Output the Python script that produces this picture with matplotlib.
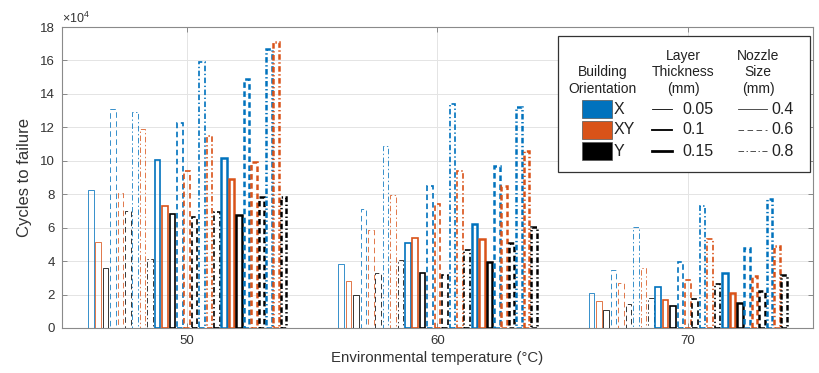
import matplotlib
matplotlib.use("Agg")
import matplotlib.pyplot as plt
from matplotlib.patches import Rectangle
from matplotlib.lines import Line2D
import numpy as np

plt.rcParams['font.family'] = ['Liberation Sans', 'DejaVu Sans']
plt.rcParams['mathtext.fontset'] = 'custom'
plt.rcParams['mathtext.rm'] = 'Liberation Sans'
plt.rcParams['lines.scale_dashes'] = False

# ---------------- data (values in units of 10^4 cycles) ----------------
temperatures = [50, 60, 70]
orientations = ['X', 'XY', 'Y']
thicknesses = ['0.05', '0.1', '0.15']
nozzles = ['0.4', '0.6', '0.8']
# order within each group: thickness -> nozzle -> orientation
cycles_50 = [8.28, 5.12, 3.60, 13.12, 8.10, 7.02, 12.90, 11.90, 4.13,
             10.02, 7.29, 6.84, 12.27, 9.39, 6.62, 15.90, 11.50, 6.92,
             10.16, 8.93, 6.74, 14.90, 9.92, 7.85, 16.68, 17.13, 7.85]
cycles_60 = [3.82, 2.79, 2.00, 7.11, 5.86, 3.27, 10.91, 7.98, 4.04,
             5.09, 5.41, 3.29, 8.50, 7.41, 3.15, 13.39, 9.37, 4.67,
             6.22, 5.35, 3.94, 9.70, 8.50, 5.10, 13.19, 10.58, 6.06]
cycles_70 = [2.10, 1.60, 1.10, 3.47, 2.69, 1.41, 6.02, 3.60, 1.82,
             2.45, 1.70, 1.33, 3.92, 2.90, 1.71, 7.30, 5.30, 2.65,
             3.31, 2.08, 1.52, 4.77, 3.08, 2.22, 7.72, 4.90, 3.15]
y_ticks = [0, 2, 4, 6, 8, 10, 12, 14, 16, 18]

# ---------------- styles ----------------
colors = {'X': '#0072BD', 'XY': '#D95319', 'Y': '#000000'}
widths = {'0.05': 0.55, '0.1': 1.2, '0.15': 1.8}
styles = {'0.4': '-', '0.6': (0, (4.0, 2.5)), '0.8': (0, (4.0, 1.8, 1.0, 1.8))}

W, H = 820, 373
fig = plt.figure(figsize=(W / 100, H / 100), dpi=100)
ax = fig.add_axes([62 / W, 1 - 328 / H, (813 - 62) / W, (328 - 27) / H])

all_cycles = [cycles_50, cycles_60, cycles_70]
nb = len(thicknesses) * len(nozzles) * len(orientations)
group_w = 0.8
slot = group_w / nb
bw = slot * 0.75
for gi, vals in enumerate(all_cycles):
    center = gi + 1
    k = 0
    for th in thicknesses:
        for nz in nozzles:
            for ori in orientations:
                x = center - group_w / 2 + (k + 0.5) * slot
                ax.bar(x, vals[k], width=bw, facecolor='none',
                       edgecolor=colors[ori], linewidth=widths[th],
                       linestyle=styles[nz], zorder=3)
                k += 1

ax.set_xlim(0.5, 3.5)
ax.set_ylim(0, 18)
ax.set_xticks([1, 2, 3])
ax.set_xticklabels([str(t) for t in temperatures])
ax.set_yticks(y_ticks)
ax.set_yticklabels([str(t) for t in y_ticks])
ax.grid(True, color='#e4e4e4', linewidth=0.7, zorder=0)
ax.set_axisbelow(True)
ax.tick_params(direction='in', length=3.5, width=0.6, color='#7a7a7a',
               labelsize=9.5, labelcolor='#333333', top=True, right=True, pad=5)
for s in ax.spines.values():
    s.set_color('#8a8a8a')
    s.set_linewidth(0.8)

ax.set_xlabel('Environmental temperature (°C)', fontsize=10.8, color='#333333', labelpad=3)
ax.set_ylabel('Cycles to failure', fontsize=12, color='#333333', labelpad=6)
ax.text(0.0, 1.004, r'$\mathregular{\times10^{4}}$', transform=ax.transAxes,
        ha='left', va='bottom', fontsize=9, color='#333333')

# ---------------- custom legend ----------------
def fx(px):
    return px / W

def fy(py):
    return 1 - py / H

tf = fig.transFigure
fig.add_artist(Rectangle((fx(558), fy(172)), fx(810) - fx(558), fy(36) - fy(172),
                         transform=tf, facecolor='white', edgecolor='#333333',
                         linewidth=0.9, zorder=5))
hdr_fs = 10
val_fs = 11.5
fig.text(fx(603), fy(80.5), 'Building\nOrientation', ha='center', va='center',
         fontsize=hdr_fs, linespacing=1.25, color='#222222', zorder=6)
fig.text(fx(683), fy(72.5), 'Layer\nThickness\n(mm)', ha='center', va='center',
         fontsize=hdr_fs, linespacing=1.25, color='#222222', zorder=6)
fig.text(fx(758), fy(72.5), 'Nozzle\nSize\n(mm)', ha='center', va='center',
         fontsize=hdr_fs, linespacing=1.25, color='#222222', zorder=6)
rows = [109, 130, 151]
for i, ori in enumerate(orientations):
    yc = rows[i]
    fig.add_artist(Rectangle((fx(582), fy(yc + 9)), fx(612) - fx(582), fy(yc - 9) - fy(yc + 9),
                             transform=tf, facecolor=colors[ori], edgecolor='#555555',
                             linewidth=0.5, zorder=6))
    fig.text(fx(614), fy(yc), ori, ha='left', va='center', fontsize=val_fs,
             color='#222222', zorder=6)
for i, th in enumerate(thicknesses):
    yc = rows[i]
    fig.add_artist(Line2D([fx(652), fx(672)], [fy(yc), fy(yc)], transform=tf,
                          color='black', linewidth=widths[th] * 1.1, zorder=6))
    fig.text(fx(682), fy(yc), th, ha='left', va='center', fontsize=val_fs,
             color='#222222', zorder=6)
for i, nz in enumerate(nozzles):
    yc = rows[i]
    fig.add_artist(Line2D([fx(738), fx(767)], [fy(yc), fy(yc)], transform=tf,
                          color='#333333', linewidth=0.6, linestyle=styles[nz], zorder=6))
    fig.text(fx(771), fy(yc), nz, ha='left', va='center', fontsize=val_fs,
             color='#222222', zorder=6)

fig.savefig('out.png', dpi=100)
